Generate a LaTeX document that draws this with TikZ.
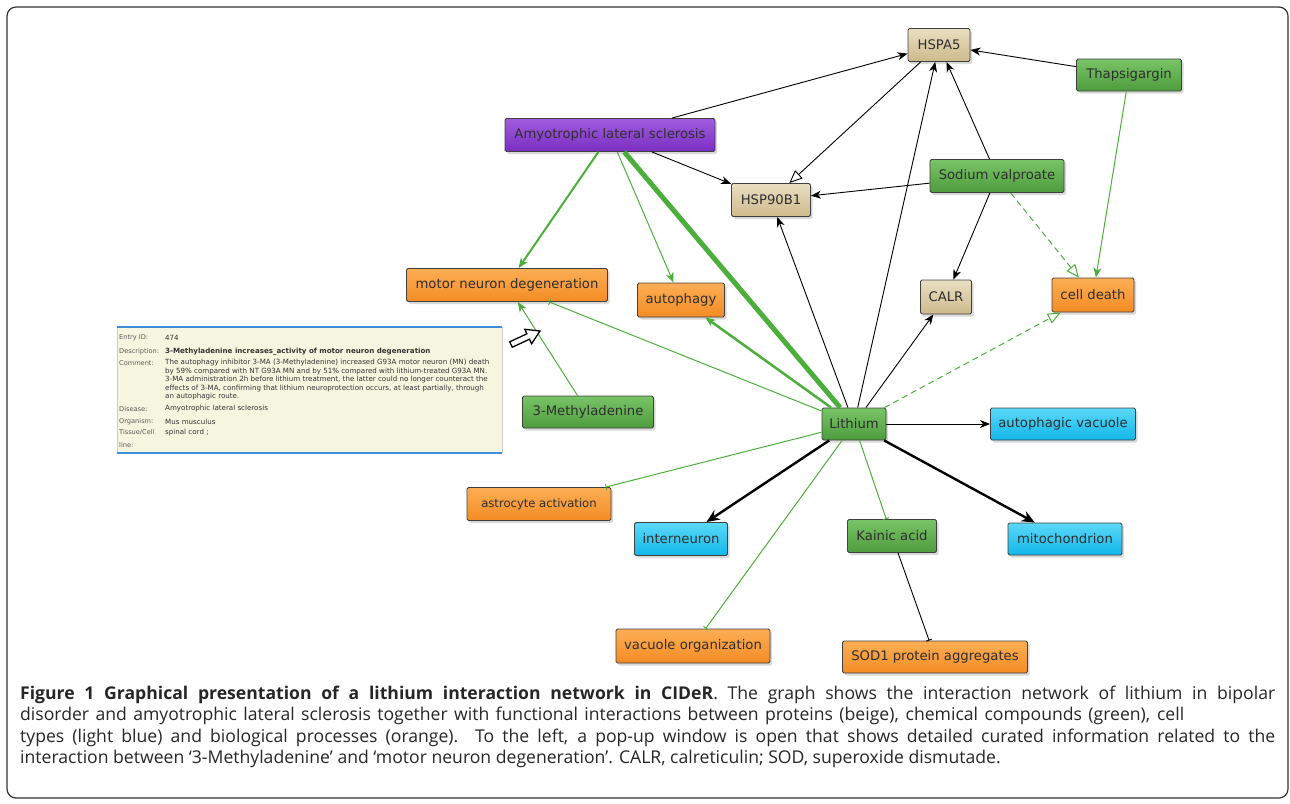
\documentclass[tikz,border=0pt]{standalone}
\usepackage{fontspec}
\usepackage{tikz}
\usetikzlibrary{arrows.meta,shadows}
\newfontfamily\nodefont{DejaVu Sans}
\newfontfamily\popfont{DejaVu Sans}
\newfontfamily\capfont{Open Sans}

\definecolor{beigeT}{HTML}{EADFC2}
\definecolor{beigeB}{HTML}{CDB98C}
\definecolor{greenT}{HTML}{78C466}
\definecolor{greenB}{HTML}{4F9C3F}
\definecolor{orangeT}{HTML}{FCAE55}
\definecolor{orangeB}{HTML}{F38C24}
\definecolor{blueT}{HTML}{5AD8F7}
\definecolor{blueB}{HTML}{12B7E9}
\definecolor{purpleT}{HTML}{A05CDE}
\definecolor{purpleB}{HTML}{7B2EC2}
\definecolor{edgegreen}{HTML}{4DAF3B}
\definecolor{popfill}{HTML}{F6F5DF}
\definecolor{popblue}{HTML}{3E8FDB}

\begin{document}
\begin{tikzpicture}[x=1pt, y=-1pt,
    box/.style = {shape=rectangle, rounded corners=1.5pt, draw=black!75, line width=0.9pt,
        inner sep=0pt, align=center, text=black!82,
        font=\nodefont\fontsize{13.2}{15}\selectfont,
        drop shadow={shadow xshift=2pt, shadow yshift=-2.5pt, opacity=0.3}},
    protein/.style = {box, top color=beigeT, bottom color=beigeB},
    compound/.style = {box, top color=greenT, bottom color=greenB},
    process/.style = {box, top color=orangeT, bottom color=orangeB},
    celltype/.style = {box, top color=blueT, bottom color=blueB},
    disease/.style = {box, top color=purpleT, bottom color=purpleB},
    blk/.style = {draw=black, line width=0.9pt, -{Stealth[length=10pt, width=8pt, inset=3pt]}},
    blkthick/.style = {draw=black, line width=2.4pt, -{Stealth[length=13pt, width=11pt, inset=4pt]}},
    hol/.style = {draw=black, line width=0.9pt, -{Triangle[open, length=13pt, width=11pt, fill=white]}},
    binh/.style = {draw=black, line width=0.9pt, -{Bar[width=6pt]}},
    gact/.style = {draw=edgegreen, line width=1pt, -{Stealth[length=10pt, width=8pt, inset=3pt]}},
    ginh/.style = {draw=edgegreen, line width=1pt, -{Bar[width=6pt]}},
    gdash/.style = {draw=edgegreen, line width=1pt, dash pattern=on 6pt off 4pt,
        -{Triangle[open, length=13pt, width=11pt, fill=white]}},
    poplbl/.style = {anchor=west, inner sep=0pt, text=black!65, font=\popfont\fontsize{6.6}{8}\selectfont},
    popval/.style = {anchor=west, inner sep=0pt, text=black!80, font=\popfont\fontsize{7.1}{8}\selectfont},
    capline/.style = {anchor=base west, inner sep=0pt, text=black!85, font=\capfont\fontsize{17.6}{21.4}\selectfont}]

    \useasboundingbox (0,0) rectangle (1290,803);
    % frame
    \draw[black!80, line width=1.2pt, rounded corners=9pt] (7,7) rectangle (1288,798);

    % proteins
    \node[protein, minimum width=62pt, minimum height=33pt] (hspa5) at (939,45) {HSPA5};
    \node[protein, minimum width=79pt, minimum height=33pt] (hsp90) at (771,200) {HSP90B1};
    \node[protein, minimum width=51pt, minimum height=34pt] (calr) at (946,297) {CALR};
    % compounds
    \node[compound, minimum width=105pt, minimum height=32pt] (thap) at (1129,75) {Thapsigargin};
    \node[compound, minimum width=134pt, minimum height=33pt] (sv) at (997,176) {Sodium valproate};
    \node[compound, minimum width=131pt, minimum height=32pt] (mad) at (588,412) {3-Methyladenine};
    \node[compound, minimum width=64pt, minimum height=32pt] (li) at (854,424) {Lithium};
    \node[compound, minimum width=89pt, minimum height=33pt] (kain) at (892,536) {Kainic acid};
    % disease
    \node[disease, minimum width=210pt, minimum height=33pt] (als) at (610,135) {Amyotrophic lateral sclerosis};
    % processes
    \node[process, minimum width=201pt, minimum height=33pt] (mnd) at (507,285) {motor neuron degeneration};
    \node[process, minimum width=87pt, minimum height=34pt] (autoph) at (681,300) {autophagy};
    \node[process, minimum width=82pt, minimum height=34pt] (death) at (1093,295) {cell death};
    \node[process, minimum width=144pt, minimum height=33pt, font=\nodefont\fontsize{11.6}{14}\selectfont] (astro) at (539,504) {astrocyte activation};
    \node[process, minimum width=154pt, minimum height=34pt] (vorg) at (693,646) {vacuole organization};
    \node[process, minimum width=185pt, minimum height=32pt] (sod) at (935,657) {SOD1 protein aggregates};
    % cell types
    \node[celltype, minimum width=145pt, minimum height=32pt] (avac) at (1063,424) {autophagic vacuole};
    \node[celltype, minimum width=93pt, minimum height=33pt] (inter) at (681,539) {interneuron};
    \node[celltype, minimum width=114pt, minimum height=32pt] (mito) at (1065,539) {mitochondrion};

    % interactions
    \draw[blk] (als) -- (hspa5);
    \draw[blk] (als) -- (hsp90);
    \draw[gact, line width=2pt] (als) -- (mnd);
    \draw[gact] (als) -- (autoph);
    \draw[draw=edgegreen, line width=5pt] (li) -- (als);
    \draw[hol] (hspa5) -- (hsp90);
    \draw[blk] (thap) -- (hspa5);
    \draw[gact] (thap) -- (death);
    \draw[blk] (sv) -- (hsp90);
    \draw[blk] (sv) -- (hspa5);
    \draw[blk] (sv) -- (calr);
    \draw[gdash] (sv) -- (death);
    \draw[blk] (li) -- (hspa5);
    \draw[blk] (li) -- (hsp90);
    \draw[blk] (li) -- (calr);
    \draw[gdash] (li) -- (death);
    \draw[gact, line width=2.5pt] (li) -- (autoph);
    \draw[ginh] (li) -- (mnd);
    \draw[gact] (mad) -- (mnd);
    \draw[blk] (li) -- (avac);
    \draw[ginh] (li) -- (astro);
    \draw[blkthick] (li) -- (inter);
    \draw[ginh] (li) -- (vorg);
    \draw[ginh] (li) -- (kain);
    \draw[blkthick] (li) -- (mito);
    \draw[binh] (kain) -- (sod);

    % pop-up window
    \fill[popfill] (117,327) rectangle (502,453);
    \draw[black!20, line width=0.6pt] (117,327) -- (117,453) (502,327) -- (502,453);
    \draw[popblue, line width=1.8pt] (117,327) -- (502,327) (117,453) -- (502,453);
    \node[poplbl] (l1) at (119,338) {Entry ID:};
    \node[popval] (v1) at (165,338) {474};
    \node[poplbl] (l2) at (119,352) {Description:};
    \node[popval] (v2) at (165,352) {\bfseries 3-Methyladenine increases\_activity of motor neuron degeneration};
    \node[poplbl] (l3) at (119,363) {Comment:};
    \node[popval, anchor=north west, align=left, font=\popfont\fontsize{7.1}{8.5}\selectfont] (v3) at (165,359)
        {The autophagy inhibitor 3-MA (3-Methyladenine) increased G93A motor neuron (MN) death\\
         by 59\% compared with NT G93A MN and by 51\% compared with lithium-treated G93A MN.\\
         3-MA administration 2h before lithium treatment, the latter could no longer counteract the\\
         effects of 3-MA, confirming that lithium neuroprotection occurs, at least partially, through\\
         an autophagic route.};
    \node[poplbl] (l4) at (119,409) {Disease:};
    \node[popval] (v4) at (165,409) {Amyotrophic lateral sclerosis};
    \node[poplbl] (l5) at (119,422) {Organism:};
    \node[popval] (v5) at (165,422) {Mus musculus};
    \node[poplbl, anchor=north west, align=left, font=\popfont\fontsize{6.6}{13}\selectfont] (l6) at (119,429) {Tissue/Cell\\line:};
    \node[popval] (v6) at (165,433) {spinal cord ;};

    % mouse pointer
    \draw[fill=white, line width=1.3pt, line join=miter] (540,331) -- (531.6,343.7) -- (529.5,339.2) -- (512.3,347.2)
        -- (509.7,341.8) -- (526.9,333.8) -- (524.8,329.3) -- cycle;

    % caption
    \node[capline] (cap1) at (20,699)
        {\makebox[1255pt][s]{\textbf{Figure 1 Graphical presentation of a lithium interaction network in CIDeR}. The graph shows the interaction network of lithium in bipolar}};
    \node[capline] (cap2) at (20,720.5)
        {\makebox[1164pt][s]{disorder and amyotrophic lateral sclerosis together with functional interactions between proteins (beige), chemical compounds (green), cell}};
    \node[capline] (cap3) at (20,742)
        {\makebox[1255pt][s]{types (light blue) and biological processes (orange). To the left, a pop-up window is open that shows detailed curated information related to the}};
    \node[capline] (cap4) at (20,763.5)
        {interaction between ‘3-Methyladenine’ and ‘motor neuron degeneration’. CALR, calreticulin; SOD, superoxide dismutade.};
\end{tikzpicture}
\end{document}
